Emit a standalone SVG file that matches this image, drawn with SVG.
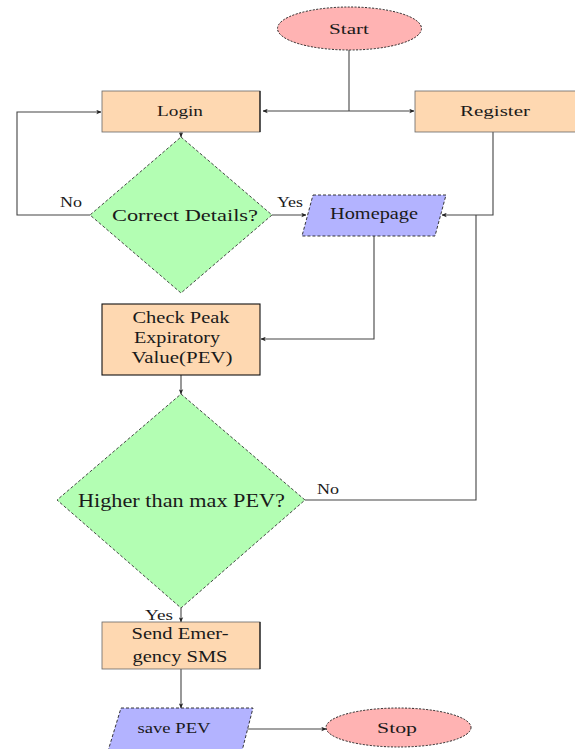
<svg xmlns="http://www.w3.org/2000/svg" width="575" height="749" viewBox="0 0 575 749">
<style>
.t{font-family:"Liberation Serif","DejaVu Serif",serif;fill:#1a1a1a;text-anchor:middle}
.lbl{font-family:"Liberation Serif","DejaVu Serif",serif;fill:#1a1a1a;font-size:14px}
.term{fill:#ffb3b3;stroke:#222;stroke-width:1;stroke-dasharray:2,1.5}
.proc{fill:#fed8b1;stroke:#666;stroke-width:0.8}
.dec{fill:#b3feb3;stroke:#333;stroke-width:0.9;stroke-dasharray:3,2}
.io{fill:#b3b3ff;stroke:#222;stroke-width:0.9;stroke-dasharray:3,2}
.edge{fill:none;stroke:#444;stroke-width:1.1}
</style>
<defs>
<marker id="ah" viewBox="0 0 8 8" refX="7.5" refY="4" markerWidth="5" markerHeight="5" orient="auto" markerUnits="userSpaceOnUse">
<path d="M0,0.5 L8,4 L0,7.5 L2,4 Z" fill="#222"/>
</marker>
</defs>
<rect width="575" height="749" fill="#fff"/>

<g id="connectors">
<path class="edge" d="M349,50 V111"/>
<path class="edge" d="M349,111 H263" marker-end="url(#ah)"/>
<path class="edge" d="M349,111 H414" marker-end="url(#ah)"/>
<path class="edge" d="M181,132 V137" marker-end="url(#ah)"/>
<path class="edge" d="M90,215 H17 V112 H101" marker-end="url(#ah)"/>
<path class="edge" d="M272,215 H306" marker-end="url(#ah)"/>
<path class="edge" d="M493,132 V215 H442" marker-end="url(#ah)"/>
<path class="edge" d="M305,500 H476 V215"/>
<path class="edge" d="M374,236 V339 H261" marker-end="url(#ah)"/>
<path class="edge" d="M181,375 V394" marker-end="url(#ah)"/>
<path class="edge" d="M181,608 V622" marker-end="url(#ah)"/>
<path class="edge" d="M181,669 V708" marker-end="url(#ah)"/>
<path class="edge" d="M247,729 H326" marker-end="url(#ah)"/>
<text class="lbl" x="60" y="207" textLength="22" lengthAdjust="spacingAndGlyphs">No</text>
<text class="lbl" x="277" y="207" textLength="26" lengthAdjust="spacingAndGlyphs">Yes</text>
<text class="lbl" x="317" y="494" textLength="22" lengthAdjust="spacingAndGlyphs">No</text>
<text class="lbl" x="145" y="620" textLength="28" lengthAdjust="spacingAndGlyphs">Yes</text>
</g>

<g id="start">
<ellipse class="term" cx="349.5" cy="28.5" rx="72" ry="21.5"/>
<text class="t" x="349" y="34" font-size="15" textLength="40" lengthAdjust="spacingAndGlyphs">Start</text>
</g>

<g id="login">
<rect class="proc" x="102" y="91" width="158" height="41"/>
<line x1="260" y1="91" x2="260" y2="132" stroke="#111" stroke-width="1.2"/>
<text class="t" x="180" y="116" font-size="15" textLength="46" lengthAdjust="spacingAndGlyphs">Login</text>
</g>

<g id="register">
<rect class="proc" x="415" y="91" width="162" height="41"/>
<text class="t" x="495" y="116" font-size="15" textLength="70" lengthAdjust="spacingAndGlyphs">Register</text>
</g>

<g id="correct-details">
<polygon class="dec" points="181,137 272,215 181,293 90,215"/>
<text class="t" x="185" y="221" font-size="17" textLength="146" lengthAdjust="spacingAndGlyphs">Correct Details?</text>
</g>

<g id="homepage">
<polygon class="io" points="313,195 446,195 435,236 302,236"/>
<text class="t" x="374" y="219" font-size="16" textLength="88" lengthAdjust="spacingAndGlyphs">Homepage</text>
</g>

<g id="check-pev">
<rect x="102" y="304" width="158" height="71" fill="#fed8b1" stroke="#111" stroke-width="1.1"/>
<text class="t" x="181" y="323" font-size="16" textLength="97" lengthAdjust="spacingAndGlyphs">Check Peak</text>
<text class="t" x="177" y="343" font-size="16" textLength="86" lengthAdjust="spacingAndGlyphs">Expiratory</text>
<text class="t" x="182" y="363" font-size="16" textLength="101" lengthAdjust="spacingAndGlyphs">Value(PEV)</text>
</g>

<g id="higher-pev">
<polygon class="dec" points="181,394 305,500 181,608 57,500"/>
<text class="t" x="181.5" y="507" font-size="18" textLength="207" lengthAdjust="spacingAndGlyphs">Higher than max PEV?</text>
</g>

<g id="send-sms">
<rect class="proc" x="102" y="622" width="158" height="47"/>
<line x1="260" y1="622" x2="260" y2="669" stroke="#111" stroke-width="1.2"/>
<text class="t" x="180" y="639" font-size="16" textLength="97" lengthAdjust="spacingAndGlyphs">Send Emer-</text>
<text class="t" x="180" y="662" font-size="16" textLength="95" lengthAdjust="spacingAndGlyphs">gency SMS</text>
</g>

<g id="save-pev">
<polygon class="io" points="121,708 253,708 242,751 108,751"/>
<text class="t" x="174" y="733" font-size="15" textLength="73" lengthAdjust="spacingAndGlyphs">save PEV</text>
</g>

<g id="stop">
<ellipse class="term" cx="398.5" cy="727.5" rx="72.5" ry="19.5"/>
<text class="t" x="397" y="733" font-size="15" textLength="40" lengthAdjust="spacingAndGlyphs">Stop</text>
</g>
</svg>
